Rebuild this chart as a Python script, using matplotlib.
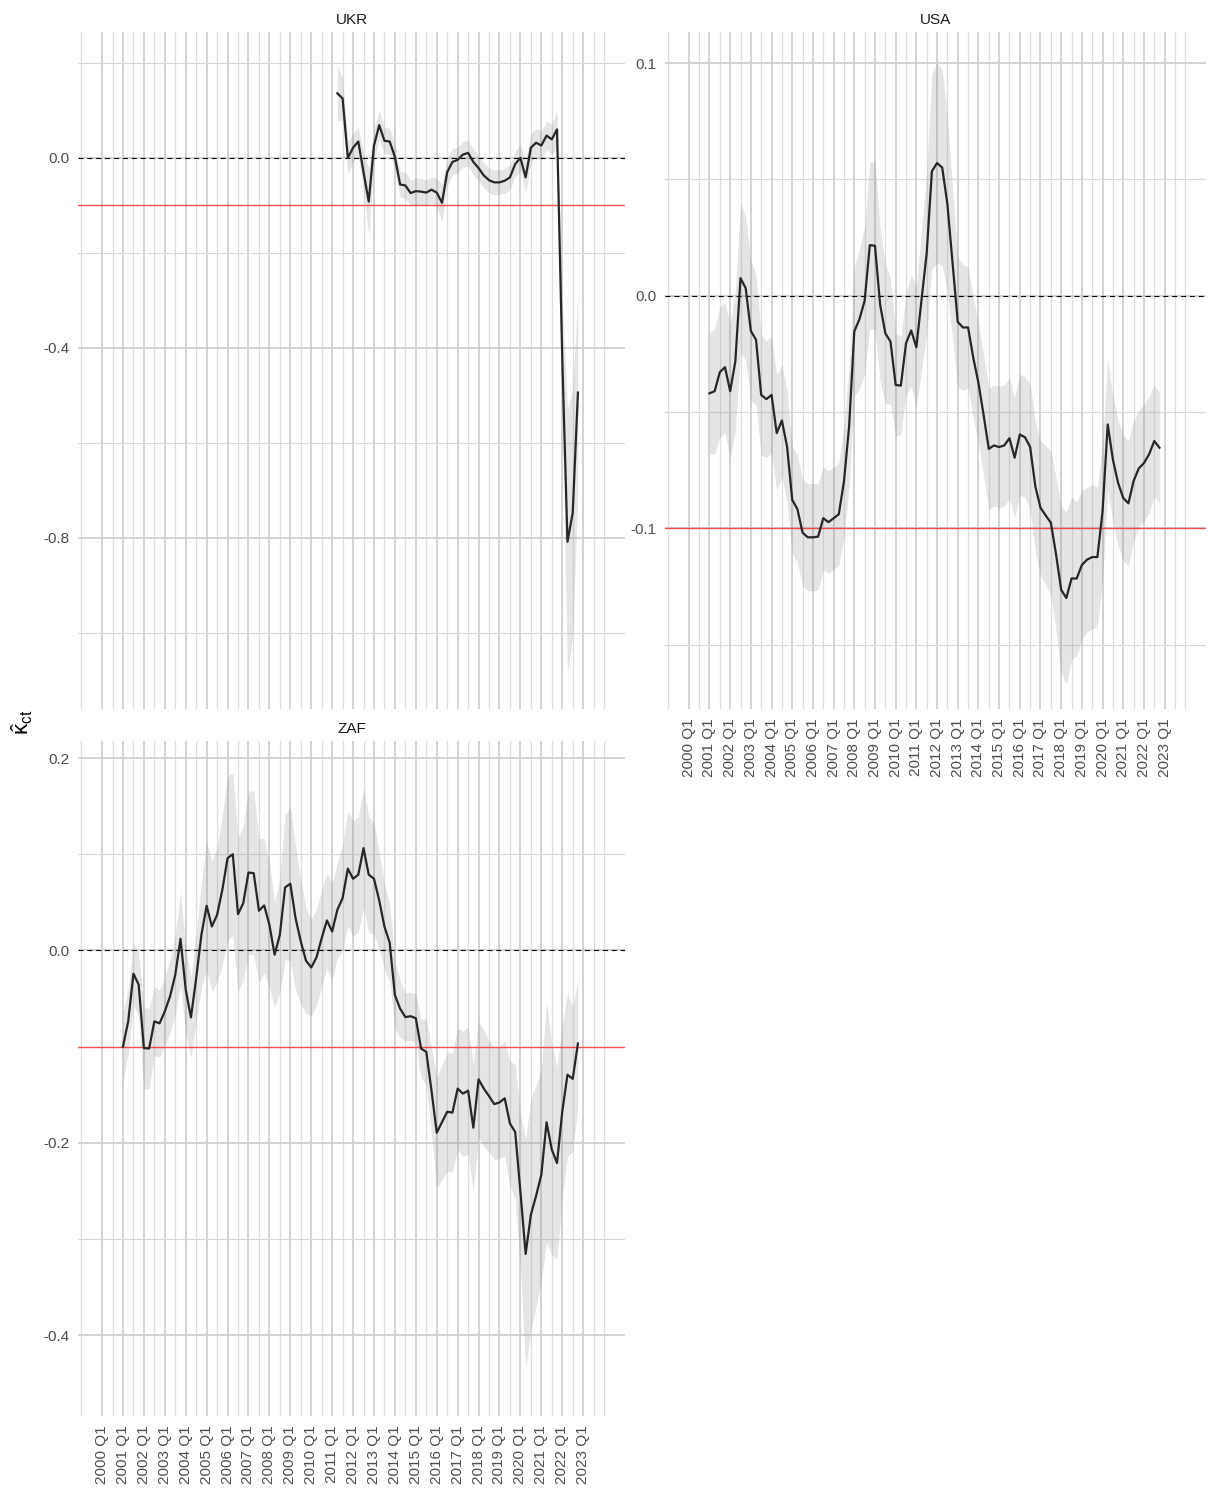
import numpy as np
import pandas as pd
import matplotlib
matplotlib.use('Agg')
import matplotlib.pyplot as plt

plt.rcParams['font.family'] = ['Liberation Sans', 'DejaVu Sans']
plt.rcParams['mathtext.default'] = 'regular'

# estimated kappa_ct per country (quarterly) and ribbon half-widths
ukr_start, ukr_end = '2011Q2', '2022Q4'
ukr_kappa = [0.136, 0.125, 0.0,
             0.0215, 0.0345, -0.030, -0.092,
             0.026, 0.069, 0.036, 0.0345,
             0.002, -0.056, -0.058, -0.074,
             -0.070, -0.071, -0.073, -0.067,
             -0.073, -0.0945, -0.030, -0.0085,
             -0.004, 0.007, 0.0105, -0.0085,
             -0.0215, -0.037, -0.047, -0.0515,
             -0.0515, -0.048, -0.041, -0.013,
             0.0, -0.041, 0.0215, 0.032,
             0.026, 0.047, 0.039, 0.060,
             -0.42, -0.808, -0.747, -0.494]
ukr_hw = [0.058, 0.045, 0.035,
          0.03, 0.03, 0.04, 0.07,
          0.035, 0.03, 0.028, 0.028,
          0.027, 0.027, 0.027, 0.028,
          0.028, 0.028, 0.027, 0.028,
          0.03, 0.04, 0.03, 0.028,
          0.027, 0.027, 0.027, 0.027,
          0.026, 0.026, 0.026, 0.026,
          0.026, 0.026, 0.026, 0.027,
          0.028, 0.035, 0.03, 0.03,
          0.03, 0.03, 0.032, 0.04,
          0.12, 0.28, 0.26, 0.21]

usa_start, usa_end = '2001Q1', '2022Q4'
usa_kappa = [-0.0419, -0.041, -0.0328, -0.0307,
             -0.041, -0.0282, 0.0076, 0.0033,
             -0.0151, -0.0189, -0.0426, -0.0444,
             -0.0426, -0.059, -0.0536, -0.0648,
             -0.0877, -0.0917, -0.1018, -0.1038,
             -0.1038, -0.1035, -0.0956, -0.0973,
             -0.0956, -0.0939, -0.0798, -0.0561,
             -0.0153, -0.0100, -0.0021, 0.0218,
             0.0215, -0.0039, -0.0161, -0.0197,
             -0.0383, -0.0386, -0.0204, -0.0149,
             -0.0221, -0.0017, 0.0184, 0.0535,
             0.0571, 0.0551, 0.0394, 0.0141,
             -0.0112, -0.0136, -0.0136, -0.0266,
             -0.0374, -0.0512, -0.0658, -0.0643,
             -0.065, -0.0643, -0.0612, -0.0696,
             -0.0596, -0.0608, -0.065, -0.0819,
             -0.0911, -0.0944, -0.0975, -0.1110,
             -0.1264, -0.1299, -0.1215, -0.1215,
             -0.1157, -0.1134, -0.1123, -0.1123,
             -0.0926, -0.0553, -0.0704, -0.0804,
             -0.0869, -0.0892, -0.0796, -0.0742,
             -0.0719, -0.0681, -0.0624, -0.0653]
usa_hw = [0.026, 0.027, 0.028, 0.028,
          0.029, 0.03, 0.032, 0.031,
          0.03, 0.028, 0.026, 0.025,
          0.025, 0.025, 0.024, 0.024,
          0.023, 0.023, 0.023, 0.023,
          0.023, 0.023, 0.022, 0.022,
          0.022, 0.022, 0.024, 0.026,
          0.028, 0.03, 0.032, 0.036,
          0.036, 0.033, 0.03, 0.027,
          0.022, 0.021, 0.022, 0.024,
          0.026, 0.03, 0.035, 0.042,
          0.043, 0.042, 0.038, 0.032,
          0.028, 0.027, 0.026, 0.026,
          0.026, 0.026, 0.026, 0.026,
          0.026, 0.026, 0.026, 0.026,
          0.026, 0.026, 0.027, 0.028,
          0.029, 0.03, 0.031, 0.033,
          0.036, 0.037, 0.035, 0.033,
          0.032, 0.031, 0.031, 0.03,
          0.03, 0.028, 0.027, 0.027,
          0.027, 0.027, 0.026, 0.025,
          0.025, 0.025, 0.024, 0.024]

zaf_start, zaf_end = '2001Q1', '2022Q4'
zaf_kappa = [-0.100, -0.0738, -0.0242, -0.0356,
             -0.1015, -0.102, -0.0738, -0.0758,
             -0.0634, -0.0478, -0.0253, 0.0121,
             -0.0409, -0.0696, -0.0287, 0.0163,
             0.0464, 0.0249, 0.037, 0.063,
             0.0959, 0.100, 0.0377, 0.0491,
             0.081, 0.0803, 0.0413, 0.0468,
             0.0267, -0.0045, 0.0163, 0.0655,
             0.0693, 0.0336, 0.0094, -0.0107,
             -0.0177, -0.0073, 0.0128, 0.0312,
             0.0197, 0.0423, 0.0544, 0.085,
             0.0745, 0.0787, 0.1063, 0.0787,
             0.0745, 0.052, 0.0247, 0.0081,
             -0.0465, -0.0606, -0.0693, -0.0684,
             -0.0705, -0.1020, -0.1055, -0.1458,
             -0.1895, -0.1786, -0.1677, -0.1686,
             -0.1436, -0.1489, -0.1458, -0.1843,
             -0.134, -0.1436, -0.1515, -0.1598,
             -0.158, -0.1537, -0.18, -0.1887,
             -0.2507, -0.3155, -0.2748, -0.2551,
             -0.2332, -0.1786, -0.207, -0.221,
             -0.1677, -0.1292, -0.1335, -0.0968]
zaf_hw = [0.036, 0.034, 0.032, 0.034,
          0.042, 0.042, 0.036, 0.035,
          0.035, 0.038, 0.042, 0.048,
          0.045, 0.042, 0.045, 0.055,
          0.067, 0.068, 0.07, 0.078,
          0.085, 0.085, 0.08, 0.08,
          0.085, 0.085, 0.075, 0.07,
          0.065, 0.055, 0.06, 0.075,
          0.08, 0.075, 0.065, 0.055,
          0.05, 0.05, 0.05, 0.05,
          0.05, 0.05, 0.055, 0.06,
          0.06, 0.06, 0.062, 0.06,
          0.058, 0.05, 0.045, 0.04,
          0.035, 0.03, 0.025, 0.025,
          0.025, 0.03, 0.035, 0.045,
          0.057, 0.06, 0.062, 0.062,
          0.063, 0.065, 0.066, 0.066,
          0.06, 0.06, 0.058, 0.058,
          0.058, 0.06, 0.065, 0.07,
          0.08, 0.12, 0.12, 0.115,
          0.11, 0.125, 0.11, 0.10,
          0.09, 0.085, 0.075, 0.065]

year_labels = list(range(2000, 2024))
x_limits = (1998.85, 2025.0)

W, H = 1208, 1491
TEXT_COL = '#4d4d4d'


def quarter_axis(start, end):
    p = pd.period_range(start, end, freq='Q')
    return np.asarray(p.year + (p.quarter - 1) / 4.0, dtype=float)


def add_panel(fig, left, top, right, bottom):
    return fig.add_axes([left / W, 1 - bottom / H, (right - left) / W, (bottom - top) / H])


def draw_panel(ax, title, start, end, kappa, hw, ylim, yticks, ylabels, yminor, show_x):
    x = quarter_axis(start, end)
    y = np.array(kappa)
    s = np.array(hw)

    ax.set_xlim(*x_limits)
    ax.set_ylim(*ylim)
    for sp in ax.spines.values():
        sp.set_visible(False)

    ax.set_xticks(year_labels)
    ax.set_xticks([1999.0] + [v + 0.5 for v in year_labels] + [2024.0], minor=True)
    ax.set_yticks(yticks)
    ax.set_yticklabels(ylabels)
    ax.set_yticks(yminor, minor=True)
    ax.set_axisbelow(True)
    ax.grid(which='major', axis='x', color='#c6c6c6', lw=1.1)
    ax.grid(which='minor', axis='x', color='#dedede', lw=0.9)
    ax.grid(which='major', axis='y', color='#cccccc', lw=1.2)
    ax.grid(which='minor', axis='y', color='#d8d8d8', lw=0.8)

    if show_x:
        ax.set_xticklabels([f'{v} Q1' for v in year_labels], rotation=90)
    else:
        ax.tick_params(axis='x', labelbottom=False)
    ax.tick_params(which='both', length=0, labelsize=11, labelcolor=TEXT_COL)
    ax.tick_params(axis='y', pad=6)
    ax.tick_params(axis='x', pad=7)

    # confidence band, reference lines, then the estimate
    ax.fill_between(x, y - s, y + s, color='#7f7f7f', alpha=0.2, lw=0, zorder=2)
    ax.axhline(0, color='black', lw=0.8, ls=(0, (4.5, 3.5)), zorder=3)
    ax.axhline(-0.1, color='#ff2a2a', lw=1.0, alpha=0.8, zorder=3)
    ax.plot(x, y, color='#262626', lw=1.6, zorder=4)

    ax.text(0.5, 1 + 12.0 / 677, title, transform=ax.transAxes, ha='center',
            va='center', fontsize=11, color='#1a1a1a')


fig = plt.figure(figsize=(W / 100, H / 100), dpi=100)

ax_ukr = add_panel(fig, 78, 32, 625, 709)
draw_panel(ax_ukr, 'UKR', ukr_start, ukr_end, ukr_kappa, ukr_hw,
           (-1.16, 0.265), [0.0, -0.4, -0.8], ['0.0', '-0.4', '-0.8'],
           [0.2, -0.2, -0.6, -1.0], False)

ax_usa = add_panel(fig, 665, 32, 1206, 709)
draw_panel(ax_usa, 'USA', usa_start, usa_end, usa_kappa, usa_hw,
           (-0.1776, 0.1134), [0.1, 0.0, -0.1], ['0.1', '0.0', '-0.1'],
           [0.05, -0.05, -0.15], True)

ax_zaf = add_panel(fig, 78, 741, 625, 1416)
draw_panel(ax_zaf, 'ZAF', zaf_start, zaf_end, zaf_kappa, zaf_hw,
           (-0.484, 0.2177), [0.2, 0.0, -0.2, -0.4], ['0.2', '0.0', '-0.2', '-0.4'],
           [0.1, -0.1, -0.3], True)

fig.text(22 / W, 1 - 722 / H, r'$\hat{\kappa}_{ct}$', rotation=90, ha='center',
         va='center', fontsize=16, color='black')

fig.savefig('out.png', dpi=100)
